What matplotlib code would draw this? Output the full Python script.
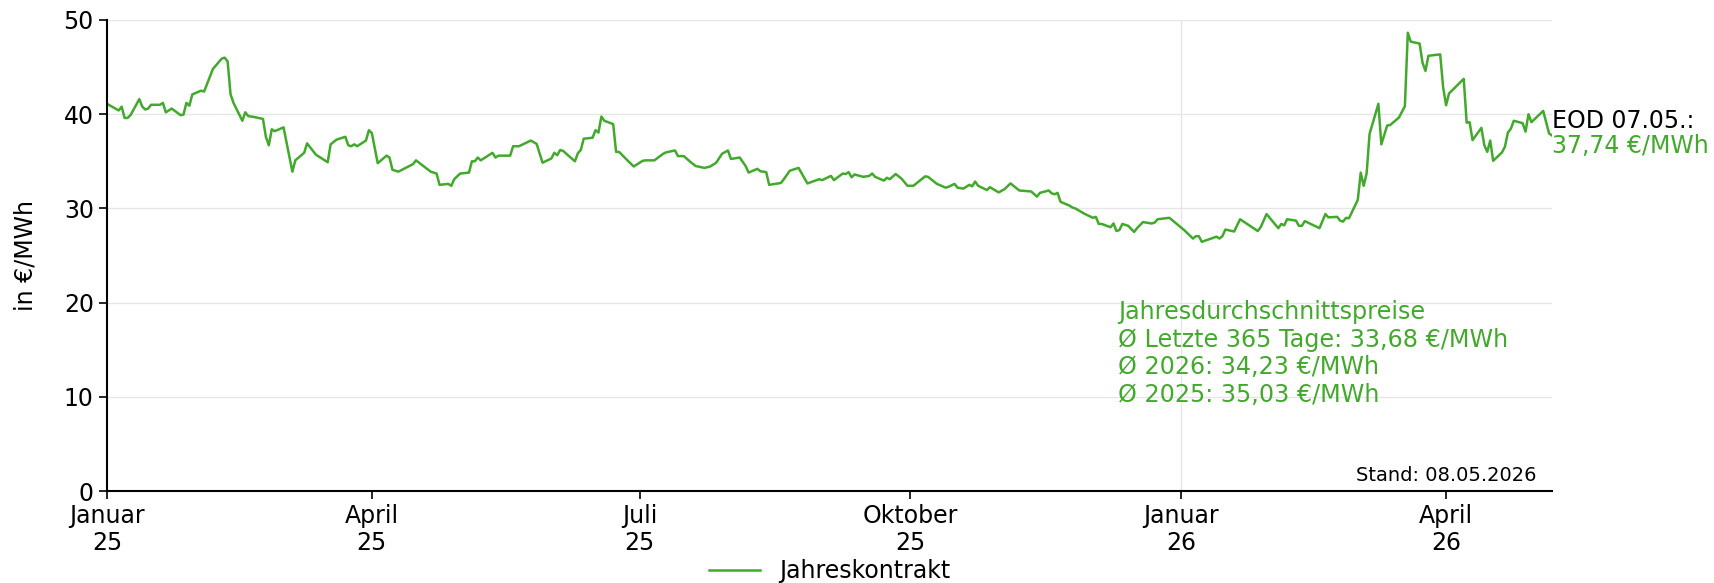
import numpy as np
import pandas as pd
import matplotlib
matplotlib.use("Agg")
import matplotlib.pyplot as plt
import matplotlib.transforms as mtransforms

# %%
# Data: days since 01.01.2025 and price of the year contract in EUR/MWh
days = [0, 4, 5, 6, 7, 8, 11, 12, 13, 14, 15, 18, 19, 20, 22, 25, 26, 27, 28, 29,
        32, 33, 36, 39, 40, 41, 42, 43, 46, 47, 48, 50, 53, 54, 55, 56, 57, 60, 63, 64,
        67, 68, 70, 71, 75, 76, 78, 81, 82, 83, 84, 85, 88, 89, 90, 92, 95, 96, 97, 99,
        104, 105, 110, 112, 113, 116, 117, 118, 120, 123, 124, 125, 126, 127, 131, 132, 133, 137, 138, 140,
        144, 146, 148, 151, 152, 153, 154, 155, 159, 160, 161, 162, 165, 166, 167, 168, 169, 172, 173, 174,
        177, 179, 182, 183, 186, 189, 190, 193, 194, 196, 198, 200, 203, 205, 207, 209, 211, 212, 215, 217,
        218, 221, 222, 224, 225, 229, 230, 232, 235, 238, 242, 243, 246, 247, 250, 251, 252, 253, 254, 257,
        259, 260, 261, 264, 265, 266, 268, 270, 272, 274, 278, 279, 282, 285, 286, 288, 289, 291, 293, 294,
        295, 296, 299, 300, 303, 305, 307, 310, 314, 316, 317, 320, 321, 322, 323, 324, 327, 328, 329, 332,
        335, 336, 337, 338, 341, 342, 343, 344, 345, 347, 349, 350, 352, 355, 356, 357, 361, 366, 369, 370,
        371, 372, 377, 378, 379, 380, 383, 385, 391, 392, 394, 398, 399, 400, 401, 404, 405, 406, 407, 412,
        414, 415, 418, 419, 420, 421, 422, 425, 426, 427, 428, 429, 432, 433, 435, 436, 439, 441, 442, 443,
        446, 447, 448, 449, 453, 454, 455, 456, 461, 462, 463, 464, 467, 468, 469, 470, 471, 474, 475, 476,
        477, 478, 481, 482, 483, 484, 488, 490, 491]
prices = [41.1, 40.4, 40.8, 39.6, 39.6, 39.9, 41.6, 40.8, 40.5, 40.6, 41.0, 41.0, 41.2, 40.2, 40.6, 39.9, 39.95, 41.2, 40.9, 42.1,
          42.5, 42.4, 44.8, 45.9, 46.0, 45.6, 42.1, 41.2, 39.3, 40.2, 39.8, 39.7, 39.5, 37.6, 36.7, 38.4, 38.2, 38.6, 33.9, 35.1,
          35.9, 36.9, 36.1, 35.7, 34.9, 36.8, 37.3, 37.6, 36.7, 36.6, 36.8, 36.6, 37.2, 38.3, 38.0, 34.8, 35.6, 35.4, 34.1, 33.9,
          34.7, 35.1, 33.9, 33.7, 32.5, 32.6, 32.4, 33.1, 33.7, 33.8, 35.0, 35.0, 35.4, 35.1, 35.9, 35.4, 35.6, 35.6, 36.6, 36.6,
          37.2, 36.85, 34.85, 35.3, 35.9, 35.65, 36.2, 36.1, 35.0, 35.85, 36.2, 37.4, 37.5, 38.3, 38.05, 39.75, 39.3, 38.95, 36.0, 36.0,
          35.05, 34.45, 35.05, 35.1, 35.1, 35.8, 35.95, 36.15, 35.55, 35.55, 35.0, 34.5, 34.3, 34.45, 34.85, 35.8, 36.15, 35.25, 35.4, 34.5,
          33.8, 34.2, 33.95, 33.85, 32.5, 32.7, 33.1, 34.0, 34.3, 32.65, 33.1, 33.0, 33.45, 33.0, 33.7, 33.65, 33.85, 33.3, 33.6, 33.35,
          33.45, 33.7, 33.35, 32.95, 33.25, 33.1, 33.65, 33.15, 32.4, 32.4, 33.4, 33.35, 32.6, 32.2, 32.3, 32.6, 32.2, 32.1, 32.5, 32.35,
          32.85, 32.4, 31.95, 32.25, 31.7, 32.05, 32.65, 31.9, 31.8, 31.25, 31.65, 31.9, 31.6, 31.5, 31.65, 30.7, 30.3, 30.1, 30.0, 29.45,
          29.0, 29.1, 28.35, 28.35, 28.0, 28.4, 27.6, 27.7, 28.35, 28.15, 27.5, 27.9, 28.55, 28.4, 28.5, 28.85, 29.0, 27.7, 26.8, 27.05,
          27.05, 26.45, 27.0, 26.8, 27.05, 27.75, 27.55, 28.85, 27.6, 28.0, 29.4, 27.9, 28.35, 28.2, 28.85, 28.7, 28.15, 28.15, 28.65, 27.9,
          29.4, 29.05, 29.1, 28.7, 28.6, 29.0, 28.95, 30.9, 33.8, 32.4, 33.7, 37.9, 41.1, 36.8, 38.8, 38.85, 39.65, 40.85, 48.65, 47.7,
          47.5, 45.45, 44.6, 46.2, 46.35, 42.85, 40.95, 42.2, 43.75, 39.1, 39.15, 37.25, 38.55, 36.7, 36.0, 37.2, 35.05, 35.95, 36.55, 38.05,
          38.45, 39.3, 39.05, 38.15, 40.0, 39.15, 40.35, 37.95, 37.74]

tick_dates = ["2025-01-01", "2025-04-01", "2025-07-01", "2025-10-01", "2026-01-01", "2026-04-01"]
tick_labels = ["Januar\n25", "April\n25", "Juli\n25", "Oktober\n25", "Januar\n26", "April\n26"]

series_name = "Jahreskontrakt"
eod_label = "EOD 07.05.:"
eod_value = "37,74 €/MWh"
avg_lines = ["Jahresdurchschnittspreise",
             "Ø Letzte 365 Tage: 33,68 €/MWh",
             "Ø 2026: 34,23 €/MWh",
             "Ø 2025: 35,03 €/MWh"]
stand = "Stand: 08.05.2026"

green = "#42A92C"

# %%
dates = pd.Timestamp("2025-01-01") + pd.to_timedelta(days, unit="D")

plt.rcParams["font.family"] = "DejaVu Sans"
plt.rcParams["font.size"] = 17

fig = plt.figure(figsize=(17.14, 5.83), dpi=100)
ax = fig.add_axes([0.0624, 0.1578, 0.8431, 0.8079])

ax.plot(dates, prices, color=green, lw=1.8, label=series_name)

ax.set_xlim(pd.Timestamp("2025-01-01"), dates[-1])
ax.set_ylim(0, 50)
ax.set_yticks([0, 10, 20, 30, 40, 50])
ax.set_xticks(pd.to_datetime(tick_dates))
ax.set_xticklabels(tick_labels)
for lab in ax.get_xticklabels():
    lab.set_linespacing(1.15)

ax.grid(axis="y", color="#e6e6e6", lw=1)
ax.axvline(pd.Timestamp("2026-01-01"), color="#e6e6e6", lw=1, zorder=0)
ax.set_axisbelow(True)

for s in ["top", "right"]:
    ax.spines[s].set_visible(False)
ax.spines["left"].set_linewidth(1.5)
ax.spines["bottom"].set_linewidth(1.5)
ax.tick_params(length=6, width=1.2)

ax.set_ylabel("in €/MWh")
ax.yaxis.set_label_coords(-0.048, 0.5)

# %%
# Annotations
ax.text(0.6995, 0.178, "\n".join(avg_lines), transform=ax.transAxes,
        color=green, ha="left", va="bottom", linespacing=1.2, fontsize=17.2)

trans = mtransforms.blended_transform_factory(ax.transAxes, ax.transData)
ax.text(1.0, 39.3, eod_label, transform=trans, color="black", ha="left", va="center", clip_on=False)
ax.text(1.0, 36.6, eod_value, transform=trans, color=green, ha="left", va="center", clip_on=False)

ax.text(0.9896, 0.033, stand, transform=ax.transAxes, ha="right", va="center", fontsize=14)

fig.legend(loc="center", bbox_to_anchor=(0.484, 0.02), frameon=False,
           handlelength=2.2, fontsize=17)

fig.savefig("out.png", dpi=100)
